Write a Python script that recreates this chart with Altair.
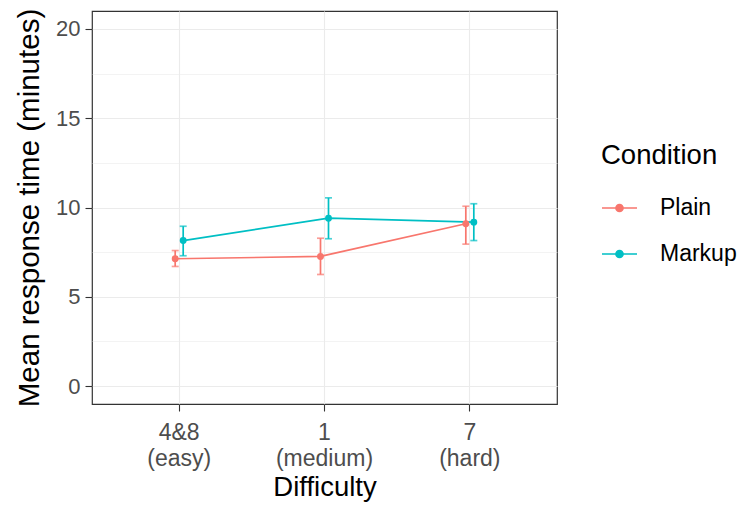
import altair as alt
import pandas as pd

# ---- data ----
difficulty_codes = ["4&8", "1", "7"]
difficulty_names = ["(easy)", "(medium)", "(hard)"]
conditions = ["Plain", "Markup"]

plain_mean = [7.13, 7.26, 9.09]
plain_low = [6.70, 6.25, 7.95]
plain_high = [7.59, 8.28, 10.07]

markup_mean = [8.15, 9.40, 9.18]
markup_low = [7.30, 8.25, 8.15]
markup_high = [8.95, 10.54, 10.21]

colors = ["#F8766D", "#00BFC4"]

diff_labels = [f"{c}|{n}" for c, n in zip(difficulty_codes, difficulty_names)]

rows = []
for cond, means, lows, highs in [
    ("Plain", plain_mean, plain_low, plain_high),
    ("Markup", markup_mean, markup_low, markup_high),
]:
    for d, m, lo, hi in zip(diff_labels, means, lows, highs):
        rows.append({"Difficulty": d, "Condition": cond, "mean": m, "low": lo, "high": hi})
df = pd.DataFrame(rows)

FONT = "Liberation Sans"
W, H = 465, 393
STEP = W / 3.2
DODGE = 4

x_enc = alt.X(
    "Difficulty:N",
    sort=diff_labels,
    scale=alt.Scale(type="band", paddingInner=0, paddingOuter=0.1),
    axis=alt.Axis(
        title="Difficulty",
        labelExpr="split(datum.label, '|')",
        labelAngle=0,
        labelFontSize=23,
        labelColor="#4D4D4D",
        labelFont=FONT,
        labelLineHeight=26,
        labelPadding=10,
        titleFontSize=27.5,
        titleFont=FONT,
        titleFontWeight="normal",
        titleColor="#000000",
        titlePadding=3,
        tickSize=7,
        tickColor="#333333",
        tickWidth=1.1,
        bandPosition=0.5,
        grid=True,
        gridColor="#EBEBEB",
        gridWidth=1.1,
        domain=False,
    ),
)

xoff = alt.XOffset(
    "Condition:N",
    scale=alt.Scale(type="point", domain=conditions,
                    range=[STEP / 2 - DODGE, STEP / 2 + DODGE], padding=0),
)

y_scale = alt.Scale(domain=[-1, 21], nice=False, zero=False)
y_axis = alt.Axis(
    title="Mean response time (minutes)",
    values=[0, 2.5, 5, 7.5, 10, 12.5, 15, 17.5, 20],
    labelExpr="datum.value % 5 === 0 ? datum.label : ''",
    labelFontSize=22,
    labelColor="#4D4D4D",
    labelFont=FONT,
    labelPadding=5,
    titleFontSize=29.5,
    titleFont=FONT,
    titleFontWeight="normal",
    titleColor="#000000",
    titlePadding=11,
    tickSize=7,
    tickColor="#333333",
    tickWidth=1.1,
    tickOpacity={"condition": {"test": "datum.value % 5 !== 0", "value": 0}, "value": 1},
    grid=True,
    gridColor="#EBEBEB",
    gridWidth={"condition": {"test": "datum.value % 5 !== 0", "value": 0.6}, "value": 1.2},
    domain=False,
)

color_scale = alt.Scale(domain=conditions, range=colors)

legend_symbol = "M-1,0H1M-0.2,0A0.2,0.2,0,1,1,0.2,0A0.2,0.2,0,1,1,-0.2,0Z"

leg = alt.Legend(
    title="Condition",
    orient="none",
    legendX=509,
    legendY=131,
    titleFontSize=27.5,
    titleFont=FONT,
    titleFontWeight="normal",
    titleColor="#000000",
    titlePadding=20,
    labelFontSize=23,
    labelFont=FONT,
    labelColor="#000000",
    labelOffset=22,
    symbolType=legend_symbol,
    symbolSize=1225,
    symbolStrokeWidth=1.7,
    symbolOpacity=1,
    rowPadding=15,
)

color_enc = alt.Color("Condition:N", scale=color_scale, legend=leg, sort=conditions)

base = alt.Chart(df)

lines = base.mark_line(strokeWidth=1.7).encode(
    x=x_enc,
    xOffset=xoff,
    y=alt.Y("mean:Q", scale=y_scale, axis=y_axis),
    color=color_enc,
)

rules = base.mark_rule(strokeWidth=1.7).encode(
    x=x_enc,
    xOffset=xoff,
    y=alt.Y("low:Q", scale=y_scale),
    y2="high:Q",
    color=color_enc,
)

caps_low = base.mark_tick(size=7, thickness=1.7, orient="horizontal").encode(
    x=x_enc,
    xOffset=xoff,
    y=alt.Y("low:Q", scale=y_scale),
    color=color_enc,
)
caps_high = base.mark_tick(size=7, thickness=1.7, orient="horizontal").encode(
    x=x_enc,
    xOffset=xoff,
    y=alt.Y("high:Q", scale=y_scale),
    color=color_enc,
)

points = base.mark_circle(size=48, opacity=1).encode(
    x=x_enc,
    xOffset=xoff,
    y=alt.Y("mean:Q", scale=y_scale),
    color=color_enc,
)

chart = (
    alt.layer(lines, rules, caps_low, caps_high, points)
    .properties(
        width=W,
        height=H,
        autosize=alt.AutoSizeParams(type="none"),
        padding={"left": 92, "top": 11, "right": 190, "bottom": 101},
        background="white",
    )
    .configure_view(stroke="#333333", strokeWidth=1.2)
)

chart.save("out.html", embed_options={"renderer": "svg", "actions": False})
